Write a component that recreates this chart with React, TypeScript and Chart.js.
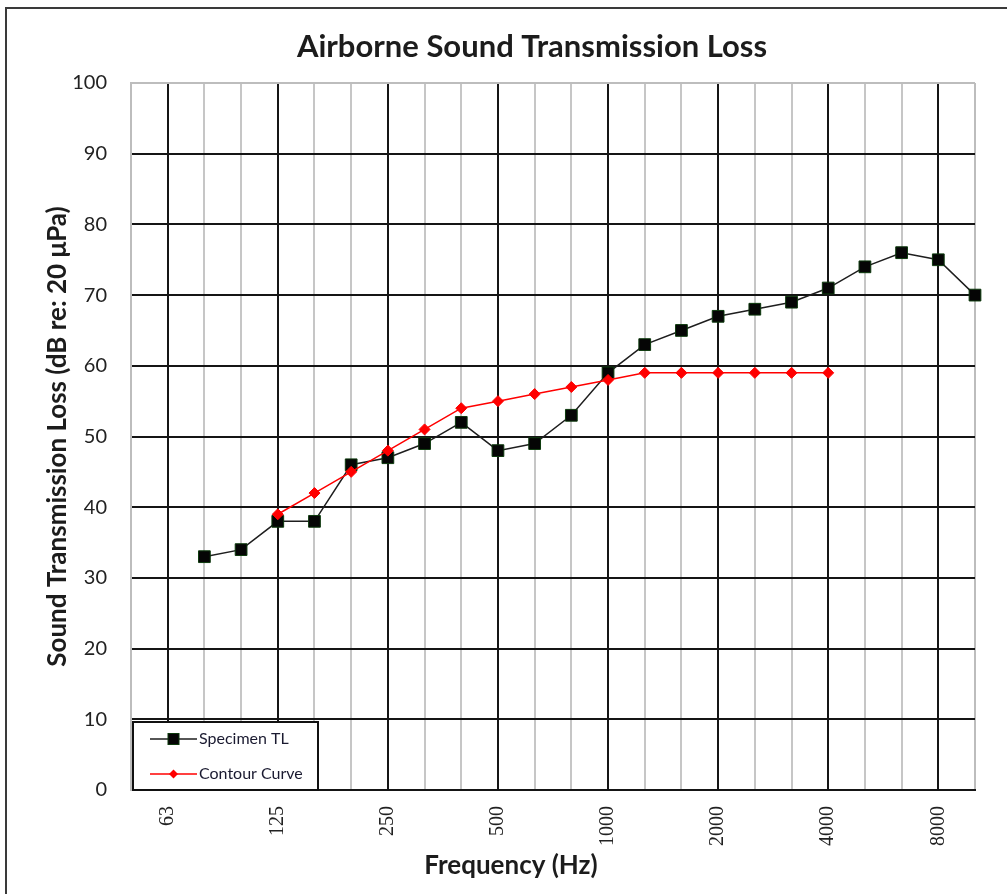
import React, { useEffect, useRef } from 'react';
import { Chart, registerables } from 'chart.js';

Chart.register(...registerables);

// ---------- data ----------
const frequencies = ['50', '63', '80', '100', '125', '160', '200', '250', '315', '400', '500', '630', '800', '1000', '1250', '1600', '2000', '2500', '3150', '4000', '5000', '6300', '8000', '10000'];
const labeledTicks = ['63', '125', '250', '500', '1000', '2000', '4000', '8000'];
const specimenTL = [null, null, 33, 34, 38, 38, 46, 47, 49, 52, 48, 49, 53, 59, 63, 65, 67, 68, 69, 71, 74, 76, 75, 70];
const contourCurve = [null, null, null, null, 39, 42, 45, 48, 51, 54, 55, 56, 57, 58, 59, 59, 59, 59, 59, 59, null, null, null, null];
const yMin = 0;
const yMax = 100;
const yStep = 10;
const seriesNames = ['Specimen TL', 'Contour Curve'];
const chartTitle = 'Airborne Sound Transmission Loss';
const xTitle = 'Frequency (Hz)';
const yTitle = 'Sound Transmission Loss (dB re: 20 \u03BCPa)';

// ---------- styles ----------
const FONT = 'Lato, "Open Sans", sans-serif';
const MAJOR = '#151515';
const MINOR = '#c6c6c6';
const EDGE = '#bdbdbd';
const TEXT = '#1c1c1c';

const decorPlugin = {
  id: 'decor',
  beforeDraw(chart: any) {
    const ctx = chart.ctx;
    ctx.save();
    ctx.fillStyle = '#ffffff';
    ctx.fillRect(0, 0, chart.width, chart.height);
    ctx.strokeStyle = '#3a3a3a';
    ctx.lineWidth = 2;
    ctx.beginPath();
    ctx.moveTo(6, chart.height);
    ctx.lineTo(6, 8);
    ctx.lineTo(chart.width, 8);
    ctx.stroke();
    ctx.restore();
  },
  afterDraw(chart: any) {
    const ctx = chart.ctx;
    const area = chart.chartArea;
    ctx.save();
    // main title
    ctx.fillStyle = TEXT;
    ctx.textAlign = 'center';
    ctx.textBaseline = 'alphabetic';
    ctx.font = `bold 31px ${FONT}`;
    ctx.fillText(chartTitle, 532, 57);
    // x axis title
    ctx.font = `bold 26px ${FONT}`;
    ctx.fillText(xTitle, 511, 874);

    // legend box, inside plot area bottom-left
    const bx = area.left + 2;
    const by = area.bottom - 68;
    const bw = 185;
    const bh = 68;
    ctx.fillStyle = '#ffffff';
    ctx.fillRect(bx, by, bw, bh);
    ctx.strokeStyle = '#111111';
    ctx.lineWidth = 2;
    ctx.strokeRect(bx, by, bw, bh);

    chart.data.datasets.forEach((ds: any, i: number) => {
      const y = by + 17 + i * 35;
      const x0 = bx + 17;
      const x1 = bx + 64;
      const cx = (x0 + x1) / 2;
      ctx.strokeStyle = ds.borderColor;
      ctx.lineWidth = ds.borderWidth;
      ctx.beginPath();
      ctx.moveTo(x0, y);
      ctx.lineTo(x1, y);
      ctx.stroke();
      ctx.fillStyle = ds.pointBackgroundColor;
      ctx.strokeStyle = ds.pointBorderColor;
      ctx.lineWidth = 1;
      if (ds.pointStyle === 'rect') {
        ctx.fillRect(cx - 5.5, y - 5.5, 11, 11);
        ctx.strokeRect(cx - 5.5, y - 5.5, 11, 11);
      } else {
        ctx.beginPath();
        ctx.moveTo(cx, y - 4.5);
        ctx.lineTo(cx + 4.5, y);
        ctx.lineTo(cx, y + 4.5);
        ctx.lineTo(cx - 4.5, y);
        ctx.closePath();
        ctx.fill();
      }
      ctx.fillStyle = '#1a1a30';
      ctx.font = `16px ${FONT}`;
      ctx.textAlign = 'left';
      ctx.textBaseline = 'middle';
      ctx.fillText(ds.label, x1 + 2, y);
    });
    ctx.restore();
  },
};

export default function App() {
  const canvasRef = useRef<HTMLCanvasElement | null>(null);

  useEffect(() => {
    const canvas = canvasRef.current;
    if (!canvas) return;
    const chart = new Chart(canvas, {
      type: 'line',
      data: {
        labels: frequencies,
        datasets: [
          {
            label: seriesNames[0],
            data: specimenTL,
            borderColor: '#1e1e1e',
            borderWidth: 1.5,
            pointStyle: 'rect',
            pointRadius: 8.3,
            pointBackgroundColor: '#050505',
            pointBorderColor: '#0d3a0d',
            pointBorderWidth: 1,
            tension: 0,
            spanGaps: false,
            order: 1,
          },
          {
            label: seriesNames[1],
            data: contourCurve,
            borderColor: '#ff0000',
            borderWidth: 1.5,
            pointStyle: 'rectRot',
            pointRadius: 5.5,
            pointBackgroundColor: '#ff0000',
            pointBorderColor: '#ff0000',
            pointBorderWidth: 1,
            tension: 0,
            spanGaps: false,
            order: 0,
          },
        ],
      },
      options: {
        animation: false,
        responsive: false,
        devicePixelRatio: 1,
        layout: { padding: { top: 83, right: 32, left: 0, bottom: 0 } },
        plugins: {
          legend: { display: false },
          tooltip: { enabled: false },
          title: { display: false },
        },
        scales: {
          x: {
            type: 'category',
            offset: false,
            afterFit: (scale: any) => {
              scale.height = 104;
              scale.paddingLeft = 0;
              scale.paddingRight = 0;
            },
            grid: {
              offset: false,
              drawTicks: false,
              lineWidth: 2,
              color: (c: any) => {
                const i = c.index;
                if (i === 0 || i === frequencies.length - 1) return EDGE;
                return labeledTicks.includes(frequencies[i]) ? MAJOR : MINOR;
              },
            },
            border: { color: MAJOR, width: 2 },
            ticks: {
              autoSkip: false,
              minRotation: 90,
              maxRotation: 90,
              padding: 16,
              color: '#222222',
              font: { family: '"Liberation Serif", serif', size: 20 },
              callback: (_v: any, idx: number) =>
                labeledTicks.includes(frequencies[idx]) ? frequencies[idx] : '',
            },
          },
          y: {
            min: yMin,
            max: yMax,
            afterFit: (scale: any) => {
              scale.width = 131;
              scale.paddingTop = 0;
              scale.paddingBottom = 0;
            },
            grid: {
              drawTicks: false,
              lineWidth: 2,
              color: (c: any) => (c.tick && c.tick.value === yMax ? EDGE : MAJOR),
            },
            border: { color: EDGE, width: 2 },
            ticks: {
              stepSize: yStep,
              padding: 24,
              color: '#222222',
              font: { family: FONT, size: 20 },
            },
            title: {
              display: true,
              text: yTitle,
              color: TEXT,
              font: { family: FONT, size: 26, weight: 'bold' },
              padding: { top: 42, bottom: 0 },
            },
          },
        },
      },
      plugins: [decorPlugin],
    } as any);
    return () => chart.destroy();
  }, []);

  return (
    <div style={{ position: 'absolute', left: 0, top: 0, width: 1007, height: 894 }}>
      <canvas ref={canvasRef} width={1007} height={894} />
    </div>
  );
}
